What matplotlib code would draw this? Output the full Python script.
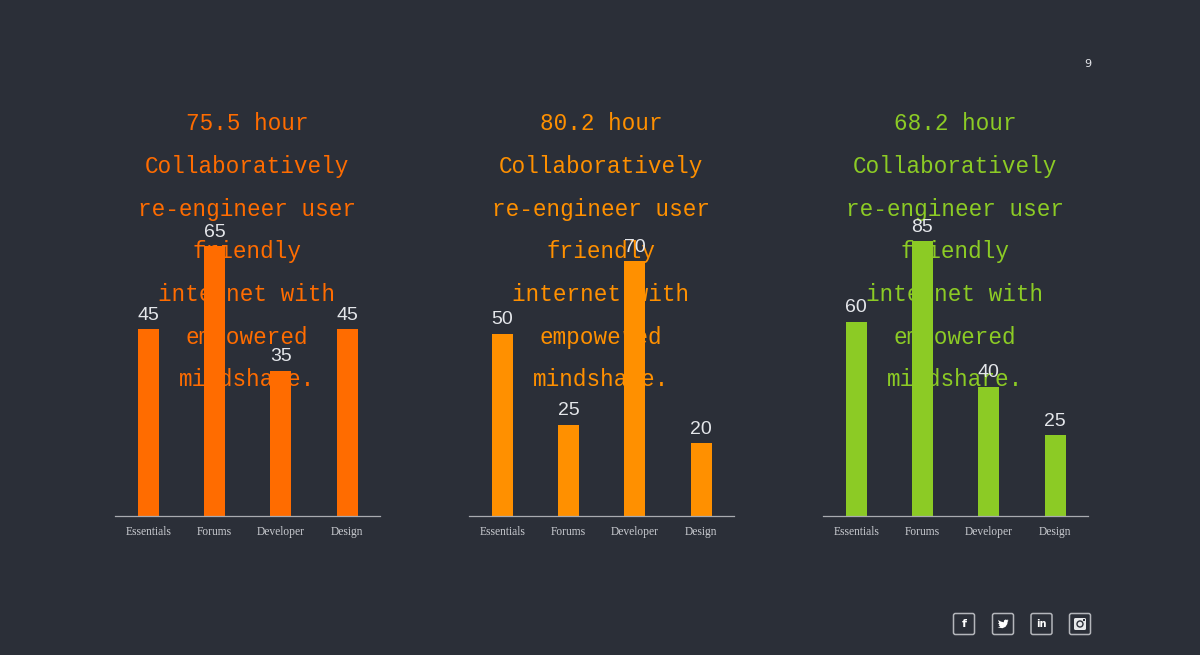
import matplotlib
matplotlib.use("Agg")
import matplotlib.pyplot as plt
from matplotlib.patches import FancyBboxPatch, Circle, Polygon, Rectangle

categories = ["Essentials", "Forums", "Developer", "Design"]
values_a = [45, 65, 35, 45]
values_b = [50, 25, 70, 20]
values_c = [60, 85, 40, 25]
hours = ["75.5 hour", "80.2 hour", "68.2 hour"]
body_lines = ["Collaboratively", "re-engineer user", "friendly",
              "internet with", "empowered", "mindshare."]
y_tops = [72.3, 82.4, 92.8]
colors = ["#FF6C00", "#FF9000", "#8CCB25"]

BG = "#2B2F38"
W, H = 1200, 655
LIGHT = "#E4E6EA"
AXIS = "#A9ABB0"

fig = plt.figure(figsize=(W / 100, H / 100), dpi=100, facecolor=BG)


def fx(px):
    return px / W


def fy(py):
    return 1 - py / H


panels = [(115, values_a), (469, values_b), (823, values_c)]
for i, (left, vals) in enumerate(panels):
    ax = fig.add_axes([fx(left), fy(516), 265.3 / W, 300 / H])
    ax.patch.set_visible(False)
    ax.bar(range(4), vals, width=0.32, color=colors[i])
    ax.set_xlim(-0.5, 3.5)
    ax.set_ylim(0, y_tops[i])
    for j, v in enumerate(vals):
        ax.annotate(str(v), (j, v), xytext=(0, 4), textcoords="offset points",
                    ha="center", va="bottom", color=LIGHT, fontsize=14,
                    family="Liberation Sans")
    ax.set_xticks(range(4), categories, fontsize=8.3, color="#C9CBD0",
                  family="Liberation Serif")
    ax.tick_params(axis="x", length=0, pad=7)
    ax.set_yticks([])
    for side in ["top", "left", "right"]:
        ax.spines[side].set_visible(False)
    ax.spines["bottom"].set_color(AXIS)
    ax.spines["bottom"].set_linewidth(0.9)

    # the heading sits behind the bars
    cx = left + 132
    lines = [hours[i]] + body_lines
    for k, line in enumerate(lines):
        fig.text(fx(cx), fy(124 + k * 42.65), line, color=colors[i], ha="center",
                 va="center", fontsize=16.3, family="Liberation Mono", zorder=-1)

fig.text(fx(1087.5), fy(64), "9", color=LIGHT, fontsize=8, ha="center", va="center",
         family="DejaVu Sans")

# social icons
icon_x = [964, 1003, 1041.5, 1080]
for x in icon_x:
    fig.add_artist(FancyBboxPatch((x - 10.5, H - 624 - 10.5), 21, 21,
                                  boxstyle="round,pad=0,rounding_size=2",
                                  transform=None, fc="none", ec="#B4B6BB", lw=1.1))
fig.text(fx(icon_x[0]), fy(624), "f", color="white", fontsize=8, fontweight="bold",
         ha="center", va="center", family="DejaVu Sans")
fig.text(fx(icon_x[2]), fy(624), "in", color="white", fontsize=7, fontweight="bold",
         ha="center", va="center", family="DejaVu Sans")

# twitter bird, rough outline in pixels around the icon centre
bird = [(2.5, 4.5), (4, 4), (5.2, 4.6), (4.6, 3.2), (5.6, 3.5), (4.6, 2.2), (4.3, 0),
        (2.5, -2.8), (-0.5, -4.2), (-5.5, -3.5), (-2.8, -2.8), (-4.5, -1), (-3.4, -1),
        (-5, 1), (-3.8, 1), (-5, 4), (-2, 2.4), (0.8, 1.7), (1, 3.5)]
fig.add_artist(Polygon([(icon_x[1] + a, H - 624 + b) for a, b in bird], closed=True,
                       transform=None, fc="white", ec="none"))

# instagram camera
ix = icon_x[3]
iy = H - 624
fig.add_artist(FancyBboxPatch((ix - 6, iy - 6), 12, 12,
                              boxstyle="round,pad=0,rounding_size=1.5",
                              transform=None, fc="#E8E9EB", ec="none"))
fig.add_artist(Circle((ix, iy), 3.7, transform=None, fc=BG, ec="none"))
fig.add_artist(Circle((ix, iy), 2.3, transform=None, fc="#E8E9EB", ec="none"))
fig.add_artist(Rectangle((ix + 2.5, iy + 2.8), 2.2, 2.2, transform=None, fc=BG, ec="none"))

fig.savefig("out.png", dpi=100, facecolor=BG)
